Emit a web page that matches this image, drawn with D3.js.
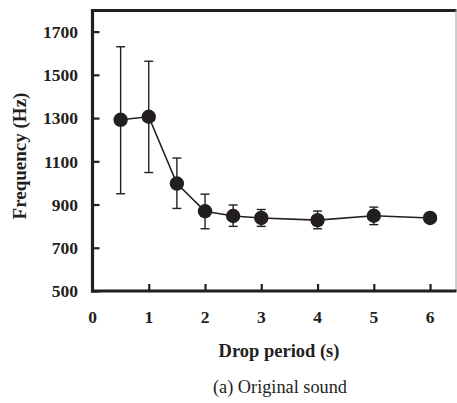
<!DOCTYPE html>
<html><head><meta charset="utf-8">
<script src="https://cdn.jsdelivr.net/npm/d3@7"></script>
<style>body{margin:0;background:#fff}svg{display:block}text{font-family:"Liberation Serif","Times New Roman",serif;fill:#231f20}</style>
</head><body><svg id="c" width="457" height="403"></svg>
<script>
const periods = [0.5, 1, 1.5, 2, 2.5, 3, 4, 5, 6];
const freq    = [1292, 1306, 997, 869, 847, 838, 828, 848, 838];
const errLow  = [950, 1048, 882, 788, 799, 799, 788, 807, 838];
const errHigh = [1630, 1563, 1115, 948, 898, 877, 870, 888, 838];
const xTicks = [0, 1, 2, 3, 4, 5, 6];
const yTicks = [500, 700, 900, 1100, 1300, 1500, 1700];

const svg = d3.select("#c");
const ink = "#231f20";
const x = d3.scaleLinear().domain([0, 6.47]).range([92.5, 456.5]);
const y = d3.scaleLinear().domain([500, 1800]).range([291, 10]);

// frame: top thick, right thin gray
svg.append("line").attr("x1", x(0)).attr("x2", x(6.47)).attr("y1", y(1800)+0.5).attr("y2", y(1800)+0.5)
  .attr("stroke", ink).attr("stroke-width", 3);
svg.append("line").attr("x1", x(6.47)-0.5).attr("x2", x(6.47)-0.5).attr("y1", y(1800)).attr("y2", y(500))
  .attr("stroke", "#9a9a9a").attr("stroke-width", 1);

// y axis
const yAxis = svg.append("g").attr("transform", `translate(${x(0)},0)`)
  .call(d3.axisRight(y).tickValues(yTicks).tickSize(7).tickFormat(""));
yAxis.select(".domain").remove();
yAxis.selectAll(".tick line").attr("stroke", ink).attr("stroke-width", 2.2);
svg.append("line").attr("x1", x(0)).attr("x2", x(0)).attr("y1", y(1800)-1).attr("y2", y(500)+1.5)
  .attr("stroke", ink).attr("stroke-width", 3.2);
svg.append("g").selectAll("text").data(yTicks).join("text")
  .attr("x", 78).attr("y", d => y(d)).attr("dy", "0.36em").attr("text-anchor", "end")
  .attr("font-weight", "bold").attr("font-size", 17.5).text(d => d);

// x axis
const xAxis = svg.append("g").attr("transform", `translate(0,${y(500)})`)
  .call(d3.axisTop(x).tickValues(xTicks.filter(d => d > 0)).tickSize(7).tickFormat(""));
xAxis.select(".domain").remove();
xAxis.selectAll(".tick line").attr("stroke", ink).attr("stroke-width", 2.2);
svg.append("line").attr("x1", x(0)-1.5).attr("x2", x(6.47)).attr("y1", y(500)).attr("y2", y(500))
  .attr("stroke", ink).attr("stroke-width", 3.2);
svg.append("g").selectAll("text").data(xTicks).join("text")
  .attr("x", d => x(d)).attr("y", 323).attr("text-anchor", "middle")
  .attr("font-weight", "bold").attr("font-size", 17.5).text(d => d);

// labels
svg.append("text").attr("x", 279).attr("y", 357).attr("text-anchor", "middle")
  .attr("font-weight", "bold").attr("font-size", 18.5).text("Drop period (s)");
svg.append("text").attr("transform", "translate(26,156) rotate(-90)").attr("text-anchor", "middle")
  .attr("font-weight", "bold").attr("font-size", 19).text("Frequency (Hz)");
svg.append("text").attr("x", 280).attr("y", 393).attr("text-anchor", "middle")
  .attr("font-size", 18.3).text("(a) Original sound");

// error bars
const idx = d3.range(periods.length);
const eb = svg.append("g").attr("stroke", ink).attr("stroke-width", 1.4);
eb.selectAll(".v").data(idx).join("line").attr("class", "v")
  .attr("x1", i => x(periods[i])).attr("x2", i => x(periods[i]))
  .attr("y1", i => y(errLow[i])).attr("y2", i => y(errHigh[i]));
eb.selectAll(".t").data(idx).join("line").attr("class", "t")
  .attr("x1", i => x(periods[i]) - 4.5).attr("x2", i => x(periods[i]) + 4.5)
  .attr("y1", i => y(errHigh[i])).attr("y2", i => y(errHigh[i]));
eb.selectAll(".b").data(idx).join("line").attr("class", "b")
  .attr("x1", i => x(periods[i]) - 4.5).attr("x2", i => x(periods[i]) + 4.5)
  .attr("y1", i => y(errLow[i])).attr("y2", i => y(errLow[i]));

// line
svg.append("path").datum(idx)
  .attr("d", d3.line().x(i => x(periods[i])).y(i => y(freq[i])))
  .attr("fill", "none").attr("stroke", ink).attr("stroke-width", 1.6);

// markers
svg.append("g").selectAll("circle").data(idx).join("circle")
  .attr("cx", i => x(periods[i])).attr("cy", i => y(freq[i])).attr("r", 7.2)
  .attr("fill", ink);
</script></body></html>
